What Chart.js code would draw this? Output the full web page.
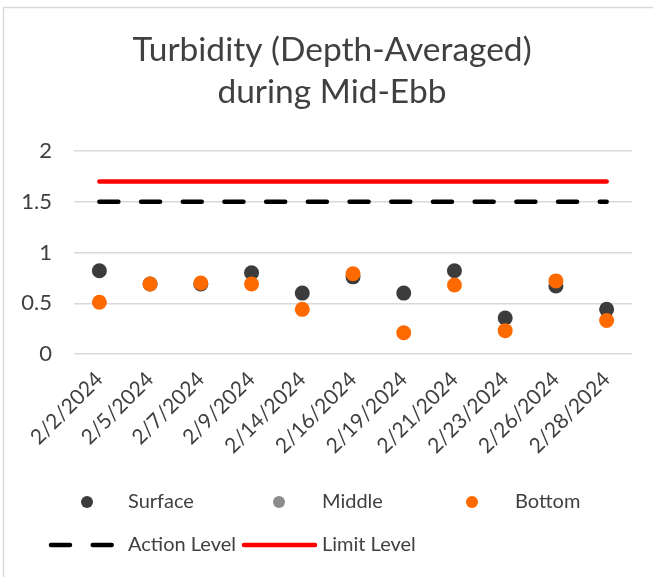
<!DOCTYPE html>
<html>
<head>
<meta charset="utf-8">
<script src="https://cdn.jsdelivr.net/npm/chart.js@4/dist/chart.umd.min.js"></script>
<style>
  html, body { margin: 0; padding: 0; background: #ffffff; }
  #wrap { position: relative; width: 653px; height: 577px; }
</style>
</head>
<body>
<div id="wrap"><canvas id="chart" width="653" height="577"></canvas></div>
<script>
// Sampling dates (category axis)
const dates = ['2/2/2024', '2/5/2024', '2/7/2024', '2/9/2024', '2/14/2024', '2/16/2024',
               '2/19/2024', '2/21/2024', '2/23/2024', '2/26/2024', '2/28/2024'];

// Depth-averaged turbidity per level
const surface = [0.82, 0.69, 0.69, 0.80, 0.60, 0.76, 0.60, 0.82, 0.355, 0.67, 0.44];
const middle  = [null, null, null, null, null, null, null, null, null, null, null];
const bottom  = [0.51, 0.69, 0.70, 0.69, 0.44, 0.79, 0.21, 0.68, 0.23, 0.72, 0.33];

// Compliance thresholds
const actionLevel = [1.5, 1.5, 1.5, 1.5, 1.5, 1.5, 1.5, 1.5, 1.5, 1.5, 1.5];
const limitLevel  = [1.7, 1.7, 1.7, 1.7, 1.7, 1.7, 1.7, 1.7, 1.7, 1.7, 1.7];

// Value axis ticks
const yTicks = [0, 0.5, 1, 1.5, 2];

// Chart title, one entry per line
const titleLines = ['Turbidity (Depth-Averaged)', 'during Mid-Ebb'];

const FONT = 'Lato, "Open Sans", sans-serif';
const TEXT = '#404040';
const GRID = '#d9d9d9';

// Outer frame and the two-line title
const framePlugin = {
  id: 'frame',
  beforeDraw(chart) {
    const ctx = chart.ctx;
    ctx.save();
    ctx.fillStyle = '#ffffff';
    ctx.fillRect(0, 0, chart.width, chart.height);
    ctx.strokeStyle = GRID;
    ctx.lineWidth = 1.5;
    ctx.strokeRect(3.5, 7.5, chart.width + 20, chart.height + 20);
    ctx.fillStyle = TEXT;
    ctx.font = '33.5px ' + FONT;
    ctx.textAlign = 'center';
    ctx.textBaseline = 'alphabetic';
    titleLines.forEach((t, i) => ctx.fillText(t, 332, 61 + i * 42));
    ctx.restore();
  }
};

// Two-row legend below the axis
const legendPlugin = {
  id: 'gridLegend',
  afterDraw(chart) {
    const ctx = chart.ctx;
    const ds = chart.data.datasets;
    const items = [
      { i: 0, mx: 87,  tx: 128, y: 502 },
      { i: 1, mx: 279, tx: 322, y: 502 },
      { i: 2, mx: 472, tx: 515, y: 502 },
      { i: 3, x0: 51, x1: 116, tx: 128, y: 545 },
      { i: 4, x0: 244, x1: 315, tx: 322, y: 545 }
    ];
    ctx.save();
    ctx.font = '20px ' + FONT;
    ctx.textBaseline = 'middle';
    ctx.textAlign = 'left';
    items.forEach(it => {
      const d = ds[it.i];
      if (it.mx !== undefined) {
        ctx.fillStyle = d.backgroundColor;
        ctx.beginPath();
        ctx.arc(it.mx, it.y, 6, 0, Math.PI * 2);
        ctx.fill();
      } else {
        ctx.strokeStyle = d.borderColor;
        ctx.lineWidth = d.borderWidth;
        ctx.lineCap = 'round';
        ctx.setLineDash(d.borderDash || []);
        ctx.beginPath();
        ctx.moveTo(it.x0, it.y);
        ctx.lineTo(it.x1, it.y);
        ctx.stroke();
        ctx.setLineDash([]);
      }
      ctx.fillStyle = TEXT;
      ctx.fillText(d.label, it.tx, it.y);
    });
    ctx.restore();
  }
};

const pointSeries = (label, data, color, order) => ({
  type: 'line',
  label, data,
  showLine: false,
  backgroundColor: color,
  borderColor: color,
  pointBackgroundColor: color,
  pointBorderWidth: 0,
  pointRadius: 7.5,
  pointHoverRadius: 7.5,
  order
});

const lineSeries = (label, data, color, dash, order) => ({
  type: 'line',
  label, data,
  borderColor: color,
  backgroundColor: color,
  borderWidth: 4.5,
  borderDash: dash,
  borderCapStyle: 'round',
  pointRadius: 0,
  pointHoverRadius: 0,
  fill: false,
  tension: 0,
  order
});

new Chart(document.getElementById('chart'), {
  data: {
    labels: dates,
    datasets: [
      pointSeries('Surface', surface, '#3c3c3c', 3),
      pointSeries('Middle', middle, '#8c8c8c', 2),
      pointSeries('Bottom', bottom, '#ff6a00', 1),
      lineSeries('Action Level', actionLevel, '#000000', [19, 22.7], 5),
      lineSeries('Limit Level', limitLevel, '#ff0000', [], 4)
    ]
  },
  plugins: [framePlugin, legendPlugin],
  options: {
    responsive: false,
    animation: false,
    events: [],
    layout: { padding: { top: 151, left: 10, right: 21, bottom: 107 } },
    plugins: {
      legend: { display: false },
      tooltip: { enabled: false },
      title: { display: false }
    },
    scales: {
      x: {
        type: 'category',
        offset: true,
        grid: { display: false, drawTicks: false },
        border: { display: false },
        ticks: {
          autoSkip: false,
          minRotation: 45,
          maxRotation: 45,
          padding: 13,
          color: TEXT,
          font: { family: FONT, size: 21 }
        },
        afterFit(scale) { scale.height = 116; }
      },
      y: {
        min: 0,
        max: 2,
        afterBuildTicks(scale) { scale.ticks = yTicks.map(v => ({ value: v })); },
        grid: { color: GRID, lineWidth: 1.5, drawTicks: false },
        border: { display: false },
        ticks: {
          padding: 22,
          color: TEXT,
          font: { family: FONT, size: 22 },
          callback: v => String(v)
        },
        afterFit(scale) { scale.width = 64; }
      }
    }
  }
});
</script>
</body>
</html>
